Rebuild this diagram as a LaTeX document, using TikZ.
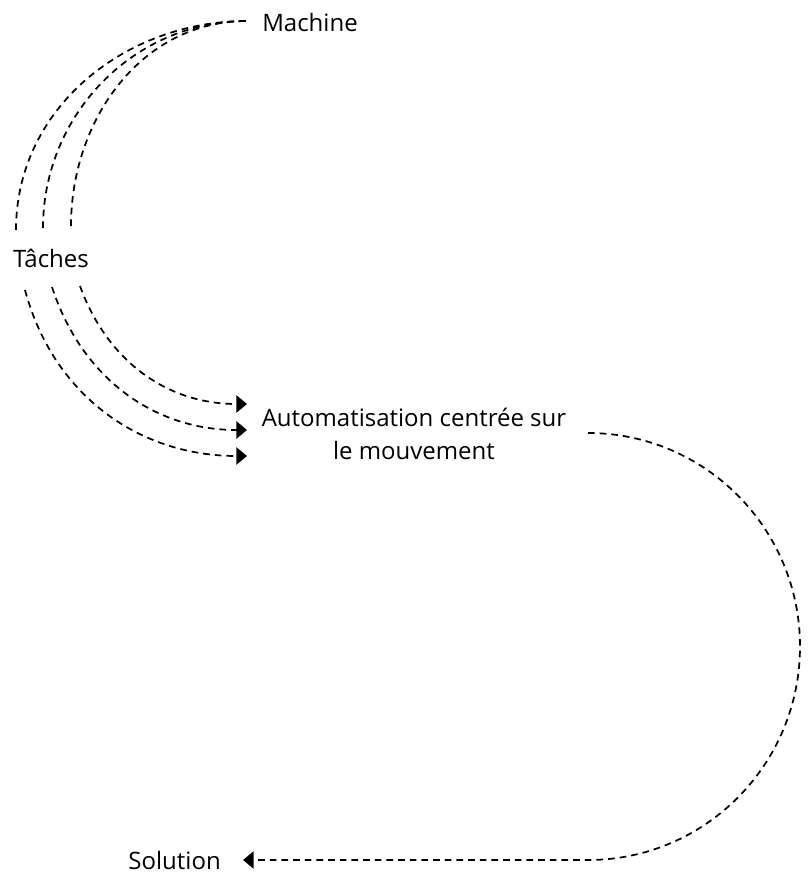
\documentclass[tikz,border=0pt]{standalone}
\usepackage{fontspec}
\setmainfont{Open Sans}
\usetikzlibrary{arrows.meta}
\begin{document}
\begin{tikzpicture}[x=0.75pt,y=0.75pt,
  lbl/.style={inner sep=0pt,font=\fontsize{18}{24.75}\selectfont},
  conn/.style={line width=1.3pt,dash pattern=on 5pt off 3.75pt},
  tip/.style={-{Triangle[length=8pt,width=13pt]}}]
\useasboundingbox (0,0) rectangle (811,-872);
% nodes
\node[lbl,anchor=west] (machine) at (262,-22) {Machine};
\node[lbl] (taches) at (51,-258) {Tâches};
\node[lbl,align=center] (auto) at (414,-434) {Automatisation centrée sur\\le mouvement};
\node[lbl,anchor=east] (solution) at (221,-860) {Solution};
% connector end points
\coordinate (m) at (247,-21);
\coordinate (t1) at (16,-230);
\coordinate (t2) at (43,-228);
\coordinate (t3) at (71,-226);
\coordinate (b1) at (25,-290);
\coordinate (b2) at (52,-287);
\coordinate (b3) at (80,-286);
\coordinate (a1) at (247,-404);
\coordinate (a2) at (247,-430);
\coordinate (a3) at (247,-456);
\coordinate (r0) at (588,-433);
\coordinate (s0) at (243,-860);
% Tâches - Machine
\draw[conn] (t1) to[out=90,in=180] (m);
\draw[conn] (t2) to[out=90,in=180] (m);
\draw[conn] (t3) to[out=90,in=180] (m);
% Tâches -> Automatisation
\draw[conn,tip] (b1) to[out=-75,in=180] (a3);
\draw[conn,tip] (b2) to[out=-72,in=180] (a2);
\draw[conn,tip] (b3) to[out=-70,in=180] (a1);
% Automatisation -> Solution
\draw[conn,tip] (r0) arc[start angle=90,end angle=-90,x radius=212,y radius=213.5] -- (s0);
\end{tikzpicture}
\end{document}
